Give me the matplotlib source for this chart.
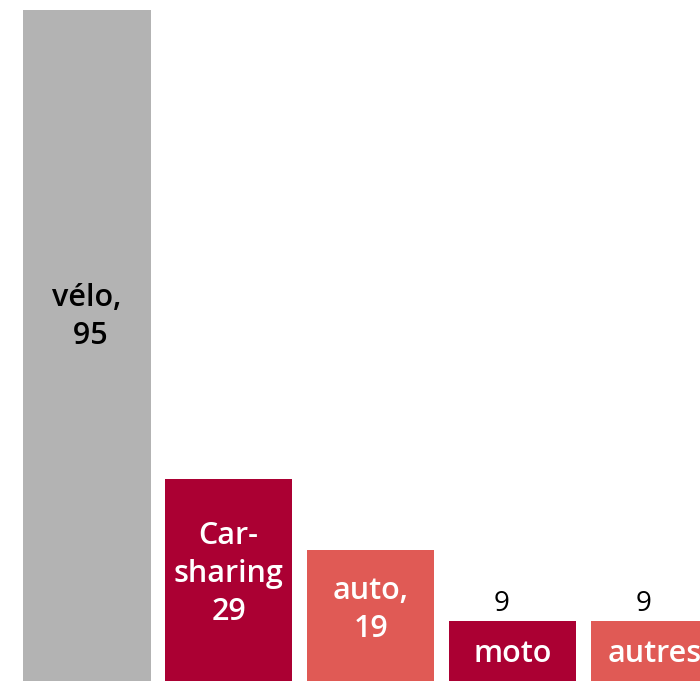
import matplotlib
matplotlib.use("Agg")
import matplotlib.pyplot as plt

# data
cats = ["vélo", "Car-sharing", "auto", "moto", "autres"]
vals = [95, 28.6, 18.5, 8.5, 8.5]
colors = ["#b3b3b3", "#ab0033", "#e05a55", "#ab0033", "#e05a55"]
inner = ["vélo,\n 95", "Car-\nsharing\n29", "auto,\n19", "moto", "autres"]
inner_y = [51.5, 15.2, 10.0, 3.8, 3.8]
outer = [None, None, None, "9", "9"]

plt.rcParams['font.family'] = ['Open Sans', 'DejaVu Sans']

fig = plt.figure(figsize=(7.0, 6.81), dpi=100)
ax = fig.add_axes([0, 0, 1, 1])
x = list(range(len(cats)))
ax.bar(x, vals, width=0.9, color=colors)

for i in x:
    txtcol = "black" if i == 0 else "white"
    ax.text(i, inner_y[i], inner[i], ha="center", va="center", color=txtcol,
            fontsize=22, fontweight="semibold", linespacing=1.35)
    if outer[i]:
        ax.text(i - 0.08, vals[i] + 2.4, outer[i], ha="center", va="center",
                color="black", fontsize=20)

ax.set_xlim(-0.61, 4.32)
ax.set_ylim(0, 96.4)
ax.axis("off")
fig.savefig("out.png", dpi=100)
